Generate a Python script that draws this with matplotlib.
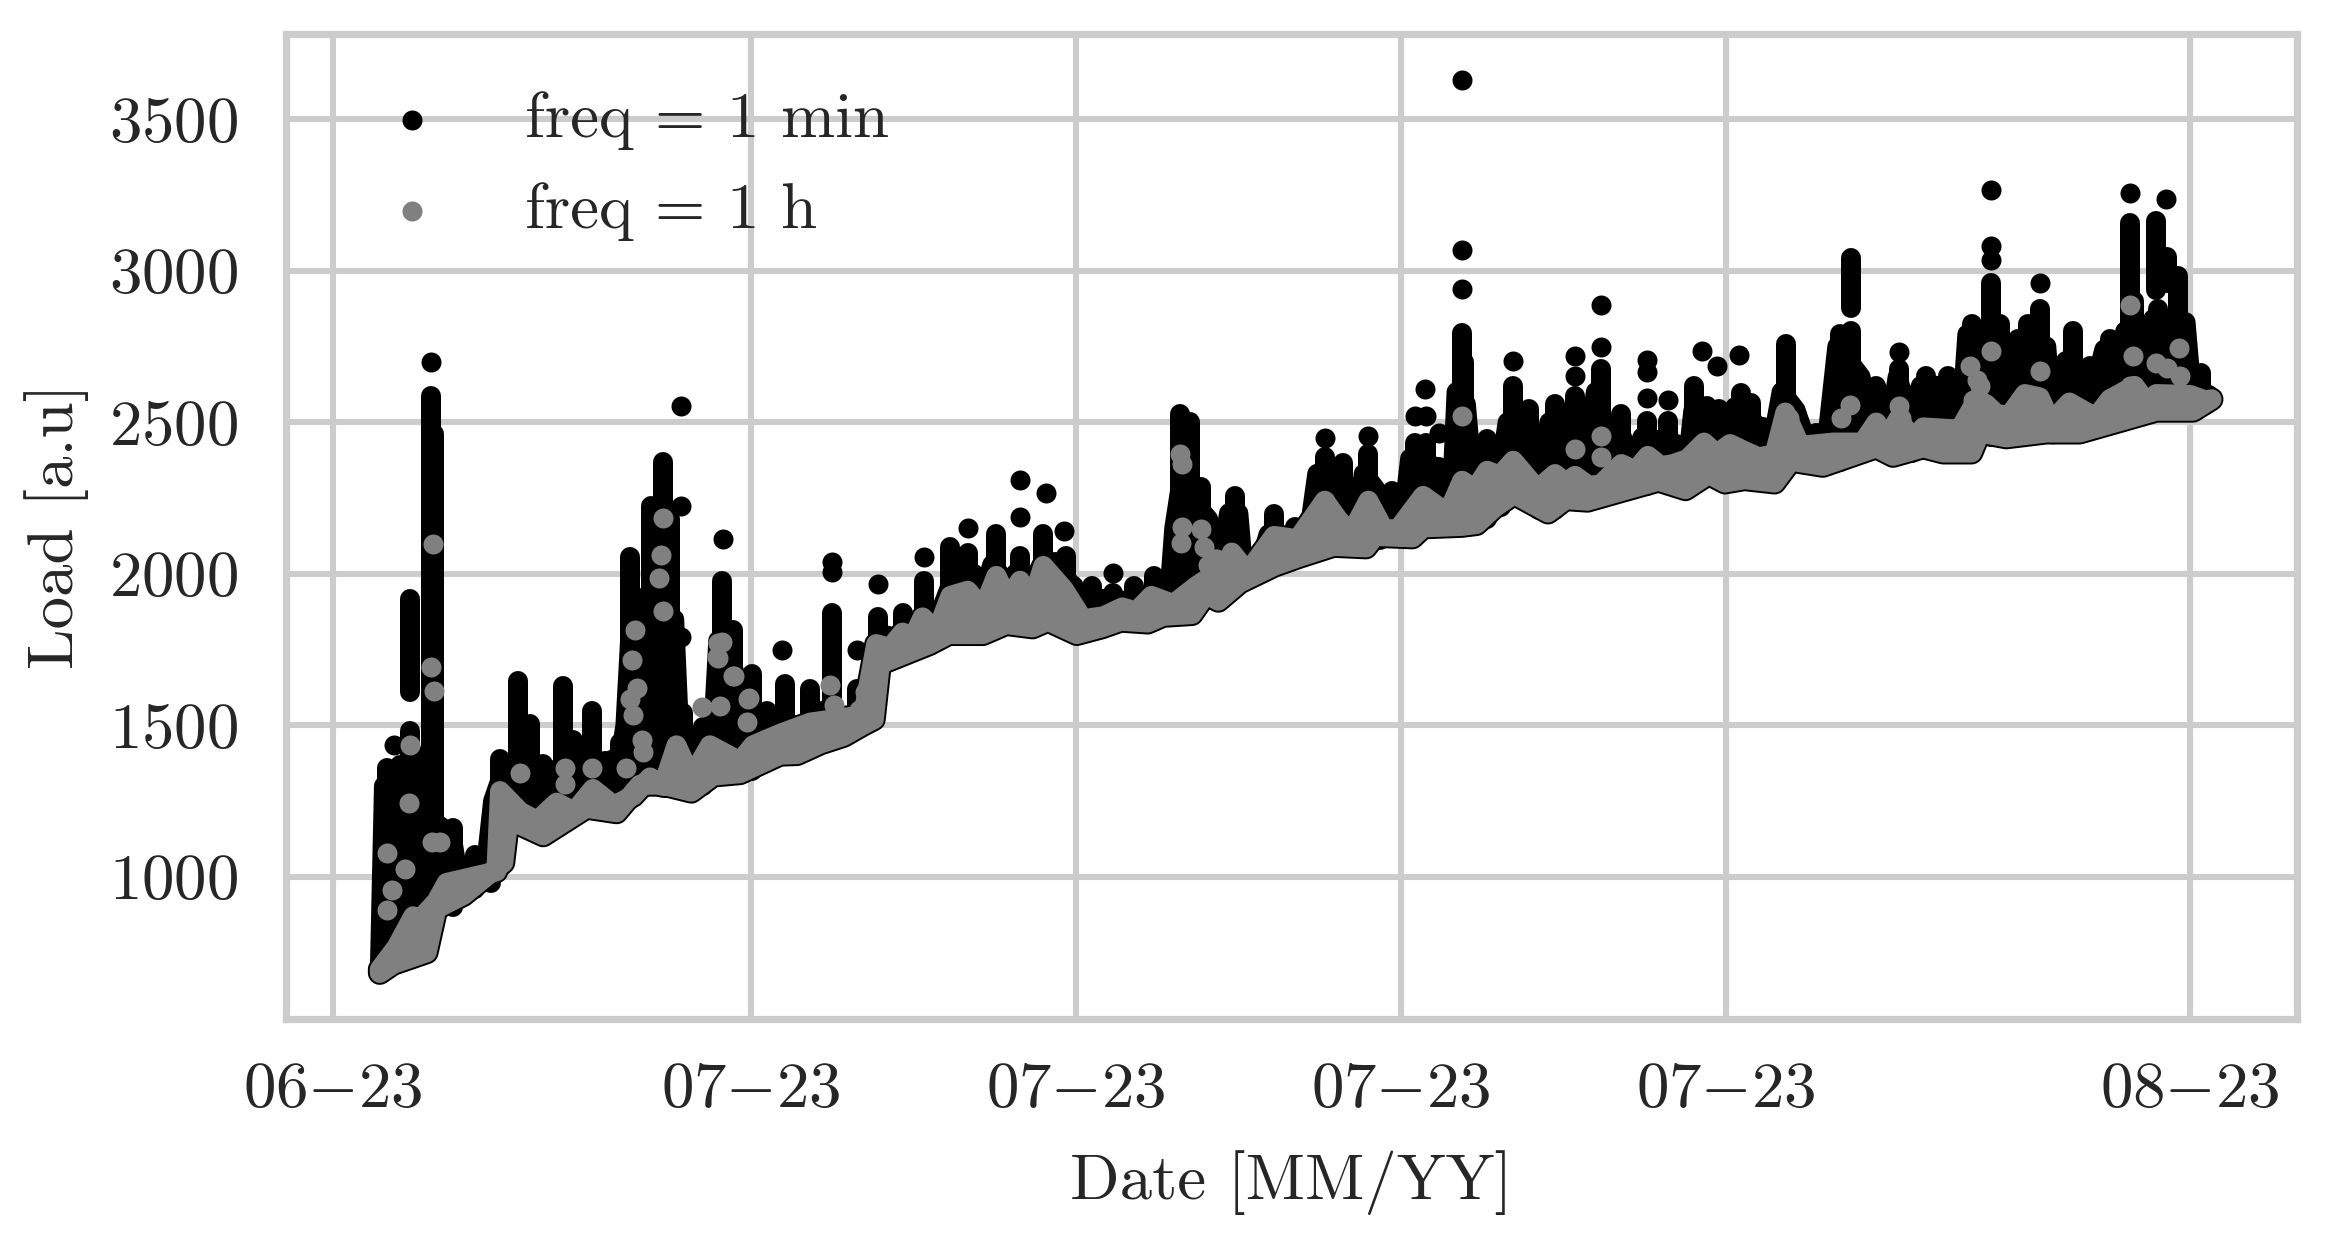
#plot.py
#Load against date, one minute and one hour sampling

from datetime import datetime

import numpy as np
import matplotlib
matplotlib.use("Agg")
import matplotlib.pyplot as plt
import matplotlib.dates as mdates

# all day positions are days after 22 June 2023
START = mdates.date2num(datetime(2023, 6, 22))
tick_dates = [datetime(2023, 6, 22), datetime(2023, 7, 1), datetime(2023, 7, 8),
              datetime(2023, 7, 15), datetime(2023, 7, 22), datetime(2023, 8, 1)]
load_ticks = [1000, 1500, 2000, 2500, 3000, 3500]

# black columns of one minute readings: day, top, bottom
col_day = [1.16, 1.45, 1.67, 1.67, 1.95, 2.12, 2.17, 2.59, 3.06, 3.4, 3.6, 3.99, 4.24, 4.53, 4.96,
           5.18, 5.57, 5.85, 6.18, 6.4, 6.6, 6.86, 7.11, 7.25, 7.55, 7.97, 8.37, 8.62, 9.02, 9.35,
           9.73, 10.0, 10.28, 10.5, 10.75, 11.0, 11.28, 11.5, 11.74, 12.0, 12.27, 12.5, 12.73, 13.0,
           13.3, 13.67, 14.0, 14.29, 14.55, 14.8, 15.05, 15.3, 15.55, 15.78, 16.0, 16.35, 16.8, 17.26,
           17.69, 18.0, 18.25, 18.45, 18.7, 18.95, 19.42, 19.7, 20.27, 20.72, 21.36, 21.75, 21.98,
           22.3, 22.55, 22.8, 23.3, 23.55, 23.82, 24.05, 24.31, 24.37, 24.6, 24.86, 25.15, 25.42,
           25.75, 25.98, 26.31, 26.75, 27.0, 27.31, 27.75, 28.0, 28.3, 28.76, 29.13, 29.31, 29.6,
           29.86, 30.1, 30.32, 30.55, 30.8, 31.05, 31.3, 31.7, 31.94, 32.45, 32.69, 32.69, 32.85,
           33.24, 33.72, 34.0, 34.32, 34.79, 35.05, 35.29, 35.7, 35.9, 36.29, 36.5, 36.76, 37.1,
           37.33, 37.48, 37.84, 38.27, 38.7, 38.8, 39.26, 39.3, 39.49, 39.74, 40.24]
col_top = [1359, 1370, 1480, 1916, 1400, 2586, 2460, 1162, 1071, 1030, 1389, 1646, 1503, 1374, 1631,
           1450, 1548, 1381, 1442, 2056, 1919, 2222, 2370, 2180, 1540, 1495, 1977, 1813, 1669, 1548,
           1636, 1500, 1619, 1510, 1872, 1530, 1619, 1640, 1856, 1780, 1872, 1820, 1977, 1840,
           2087, 2070, 1950, 2131, 1950, 2059, 1990, 2131, 2040, 2059, 1880, 1960, 1938, 1960,
           1993, 1900, 2527, 2500, 2285, 2125, 2257, 2010, 2197, 2153, 2384, 2367, 2257,
           2395, 2220, 2274, 2433, 2433, 2351, 2280, 2796, 2700, 2300, 2444, 2300, 2620,
           2543, 2367, 2560, 2587, 2380, 2675, 2527, 2400, 2505, 2505, 2400, 2620, 2554,
           2543, 2480, 2598, 2565, 2483, 2480, 2758, 2461, 2466, 2791, 3041, 2802, 2653,
           2620, 2675, 2550, 2653, 2653, 2480, 2824, 2961, 2824, 2774, 2824, 2873, 2560,
           2703, 2802, 2686, 2774, 3159, 2900, 3165, 2873, 3044, 2983, 2664]
col_low = [700, 740, 760, 1610, 800, 800, 850, 900, 960, 980, 1040, 1200, 1180, 1150, 1220,
           1230, 1240, 1230, 1230, 1300, 1310, 1320, 1310, 1320, 1300, 1300, 1340, 1340, 1350, 1380,
           1410, 1410, 1420, 1440, 1450, 1470, 1500, 1520, 1700, 1740, 1770, 1780, 1780, 1790,
           1810, 1820, 1810, 1820, 1830, 1840, 1830, 1840, 1840, 1830, 1810, 1830, 1840, 1850,
           1860, 1870, 1870, 1870, 1900, 1920, 1960, 1990, 2030, 2060, 2090, 2090, 2100,
           2090, 2110, 2120, 2120, 2150, 2160, 2160, 2160, 2160, 2170, 2180, 2220, 2260,
           2230, 2210, 2210, 2240, 2240, 2250, 2270, 2280, 2290, 2300, 2280, 2300, 2320,
           2310, 2310, 2310, 2310, 2310, 2320, 2370, 2370, 2360, 2370, 2876, 2400, 2400,
           2410, 2400, 2400, 2410, 2400, 2420, 2400, 2450, 2450, 2460, 2460, 2470, 2470,
           2470, 2470, 2480, 2490, 2510, 2520, 2937, 2540, 2960, 2540, 2550]

# upper edge of the packed black mass between the columns
body_day = [1.1, 2.55, 2.7, 3.0, 3.3, 3.45, 3.7, 4.6, 5.2, 5.8, 6.2, 6.3, 6.4, 6.9, 7.35, 7.45, 7.7, 8.0, 8.2,
            8.3, 8.6, 8.85, 9.1, 9.4, 9.6, 10.0, 10.4, 10.6, 10.9, 11.4, 11.65, 11.8, 12.1, 12.4, 12.6, 12.9,
            13.15, 13.3, 13.8, 14.05, 14.2, 14.55, 14.7, 15.1, 15.3, 15.55, 15.95, 16.05, 16.4, 17.0, 17.5,
            18.0, 18.12, 18.3, 18.45, 18.85, 19.1, 19.3, 19.5, 19.6, 20.0, 20.15, 20.5, 21.0, 21.2, 21.8,
            22.1, 22.2, 22.45, 22.6, 23.05, 23.2, 23.8, 24.1, 24.2, 24.4, 24.55, 24.8, 25.1, 25.3, 25.8,
            26.0, 26.2, 26.5, 26.65, 27.0, 27.2, 27.5, 27.7, 28.0, 28.2, 28.9, 29.15, 29.3, 29.7, 30.0,
            30.2, 30.6, 31.0, 31.2, 31.5, 31.7, 32.2, 32.4, 32.9, 33.1, 33.3, 33.55, 33.7, 33.95, 34.2,
            34.9, 35.05, 35.2, 36.0, 36.15, 36.9, 37.05, 37.2, 38.0, 38.15, 38.5, 38.6, 39.1, 39.2, 39.9,
            40.05, 40.4]
body_top = [1300, 1140, 1000, 1040, 1040, 1250, 1360, 1340, 1380, 1370, 1400, 1500, 1780, 1850, 1850, 1500,
            1430, 1440, 1500, 1780, 1700, 1550, 1500, 1460, 1500, 1490, 1490, 1550, 1500, 1560, 1640, 1800,
            1790, 1830, 1840, 1830, 1900, 1960, 2000, 1950, 2030, 1960, 2000, 1980, 2040, 2010, 1960, 1880,
            1920, 1910, 1920, 1900, 2150, 2330, 2250, 2180, 2000, 2200, 2200, 2020, 2050, 2130, 2120, 2110,
            2330, 2300, 2160, 2330, 2280, 2180, 2180, 2380, 2350, 2250, 2600, 2560, 2300, 2390, 2290, 2500,
            2480, 2270, 2500, 2360, 2500, 2380, 2600, 2320, 2480, 2340, 2450, 2430, 2330, 2540, 2500, 2430,
            2550, 2500, 2430, 2600, 2540, 2450, 2470, 2750, 2650, 2510, 2600, 2500, 2650, 2500, 2620,
            2620, 2450, 2790, 2620, 2740, 2750, 2460, 2680, 2650, 2740, 2680, 2800, 2800, 2840, 2830,
            2560, 2590]

# one minute readings standing clear of the columns
min_day = [2.12, 7.5, 7.5, 7.5, 8.4, 9.68, 10.75, 10.75, 11.28, 11.74, 12.73, 13.67, 14.8, 14.8, 15.36,
           15.74, 16.79, 1.32, 21.36, 22.3, 23.3, 23.52, 23.55, 23.82, 24.31, 24.31, 24.31, 25.42,
           26.75, 26.75, 27.31, 27.31, 28.3, 28.3, 28.3, 28.76, 29.48, 29.8, 30.28, 33.72, 35.7, 35.7,
           35.7, 36.76, 38.7, 39.47]
min_load = [2700, 2555, 2222, 1790, 2115, 1749, 2040, 2005, 1749, 1966, 2057, 2150, 2310, 2187, 2268,
            2140, 2004, 1434, 2447, 2455, 2522, 2609, 2519, 2464, 3628, 3067, 2940, 2703,
            2717, 2651, 2887, 2747, 2706, 2667, 2579, 2574, 2736, 2684, 2722, 2733, 3265, 3083,
            3036, 2959, 3256, 3237]

# lower and upper edge of the solid run of hourly readings
low_day = [1.01, 1.3, 2.02, 2.23, 2.81, 3.67, 3.78, 4.53, 5.46, 6.11, 6.61, 7.11, 7.72, 8.19, 8.77,
           9.63, 10.0, 10.5, 11.0, 11.4, 11.65, 11.78, 12.85, 13.26, 14.0, 14.5, 15.07, 15.4, 16.02,
           16.56, 16.97, 17.55, 17.88, 18.5, 18.8, 19.07, 19.53, 20.27, 20.78, 21.55, 22.25, 22.44,
           23.25, 23.48, 24.32, 24.63, 25.02, 25.44, 26.17, 26.55, 27.02, 27.78, 28.55, 29.13, 29.63,
           29.98, 30.4, 31.05, 31.4, 32.09, 33.24, 33.6, 34.25, 34.68, 35.29, 35.47, 36.04, 36.9,
           37.62, 38.63, 39.27, 40.06, 40.46]
low_load = [683, 713, 751, 895, 940, 1047, 1190, 1137, 1228, 1213, 1304, 1304, 1281, 1334, 1342,
            1403, 1405, 1440, 1465, 1500, 1520, 1702, 1768, 1801, 1801, 1834, 1823, 1845, 1801,
            1823, 1845, 1839, 1861, 1867, 1933, 1911, 1971, 2026, 2054, 2092, 2087, 2125,
            2120, 2153, 2158, 2164, 2219, 2263, 2202, 2246, 2241, 2274, 2307, 2279, 2329,
            2301, 2312, 2301, 2373, 2356, 2417, 2389, 2417, 2400, 2400, 2466, 2450, 2466,
            2466, 2510, 2538, 2538, 2576]
high_day = [1.01, 1.37, 1.73, 1.87, 2.23, 2.45, 3.52, 3.6, 4.03, 4.4, 4.82, 5.2, 5.6, 6.05, 6.47, 6.83, 7.11,
            7.4, 7.72, 8.12, 8.77, 9.05, 9.63, 10.28, 11.3, 11.45, 11.7, 12.0, 12.27, 12.5, 12.7, 13.0,
            13.3, 13.67, 14.0, 14.29, 14.54, 14.8, 15.05, 15.3, 15.74, 16.15, 16.6, 17.0, 17.3, 17.63,
            18.1, 18.6, 18.9, 19.03, 19.2, 19.36, 19.7, 20.27, 20.78, 21.36, 21.67, 21.94, 22.3, 22.63,
            22.94, 23.48, 23.78, 24.02, 24.32, 24.6, 24.86, 25.13, 25.42, 25.94, 26.32, 26.55, 26.75,
            27.05, 27.31, 27.75, 28.05, 28.32, 28.6, 28.86, 29.17, 29.53, 29.8, 30.09, 30.4, 30.71,
            31.05, 31.28, 31.6, 32.31, 32.95, 33.24, 33.46, 33.72, 34.03, 34.25, 34.89, 34.96, 35.4,
            35.6, 35.83, 36.1, 36.44, 36.76, 37.0, 37.4, 37.9, 38.05, 38.27, 38.8, 39.06, 39.27,
            40.0, 40.35]
high_load = [695, 768, 870, 859, 919, 980, 1018, 1283, 1215, 1185, 1245, 1215, 1290, 1235, 1268, 1328, 1300,
             1434, 1328, 1434, 1381, 1434, 1472, 1509, 1531, 1560, 1768, 1755, 1806, 1790, 1856, 1806,
             1927, 1944, 1883, 1993, 1916, 1977, 1905, 2026, 1949, 1850, 1860, 1889, 1875, 1927,
             1900, 1960, 1990, 2048, 1985, 2070, 2004, 2125, 2114, 2241, 2175, 2136, 2241, 2147,
             2147, 2257, 2224, 2202, 2307, 2279, 2340, 2323, 2373, 2279, 2329, 2300, 2323,
             2290, 2295, 2362, 2340, 2389, 2355, 2362, 2378, 2433, 2395, 2428, 2405, 2384,
             2395, 2532, 2422, 2433, 2433, 2499, 2444, 2513, 2439, 2483, 2477, 2455, 2574,
             2560, 2527, 2521, 2593, 2582, 2499, 2565, 2521, 2532, 2576, 2620, 2565, 2593,
             2590, 2571]

# hourly readings standing clear of the solid run
hour_day = [2.16, 2.12, 2.17, 1.67, 1.64, 2.14, 2.3, 1.17, 1.55, 1.27, 1.17, 4.03, 5.0, 5.0, 5.57, 6.32,
            6.5, 6.45, 6.54, 6.4, 6.47, 6.65, 6.68, 7.11, 7.06, 7.03, 7.11, 8.37, 8.3, 8.62, 8.34,
            8.95, 8.91, 8.3, 8.27, 8.63, 7.95, 8.96, 10.7, 10.8, 11.45, 11.33, 18.25, 18.28, 18.29, 18.27,
            18.7, 18.75, 18.85, 18.95, 21.36, 24.31, 26.75, 27.31, 27.31, 31.36, 32.67, 32.47, 33.72,
            33.78, 35.25, 35.4, 35.47, 35.33, 35.7, 36.76, 38.7, 38.76, 38.7, 39.27, 39.49, 39.76, 39.78]
hour_load = [2098, 1692, 1613, 1434, 1245, 1116, 1116, 1078, 1025, 957, 889, 1344, 1359, 1306, 1359, 1359,
             1816, 1715, 1624, 1586, 1533, 1450, 1412, 2184, 2063, 1987, 1877, 1775, 1722, 1662, 1563,
             1586, 1510, 1771, 1727, 1663, 1562, 1590, 1634, 1567, 1611, 1551, 2395, 2363, 2153, 2100,
             2147, 2090, 2030, 1980, 2241, 2519, 2412, 2455, 2385, 2513, 2557, 2513, 2552,
             2513, 2684, 2640, 2618, 2574, 2736, 2668, 2887, 2719, 2620, 2695, 2678, 2744, 2651]

plt.rcParams['font.family'] = 'serif'
plt.rcParams['font.serif'] = ['cmr10']
plt.rcParams['mathtext.fontset'] = 'cm'
plt.rcParams['axes.formatter.use_mathtext'] = True
plt.rcParams['text.color'] = '#262626'
plt.rcParams['xtick.labelcolor'] = '#262626'
plt.rcParams['ytick.labelcolor'] = '#262626'
plt.rcParams['axes.labelcolor'] = '#262626'


def days(values):
    return START + np.array(values)


def main():
    fig, ax = plt.subplots(figsize=(11.64, 6.2), dpi=200)
    fig.subplots_adjust(left=286 / 2328, right=2297 / 2328, top=1 - 34 / 1240, bottom=1 - 1019 / 1240)

    dot = 7.2  # marker diameter in points
    outline_x = np.concatenate([days(low_day), days(high_day)[::-1]])
    outline_y = np.concatenate([low_load, high_load[::-1]])
    body_x = np.concatenate([days(low_day), days(body_day)[::-1]])
    body_y = np.concatenate([low_load, body_top[::-1]])

    ax.vlines(days(col_day), col_low, col_top, color='black', linewidth=dot, capstyle='round', zorder=3)
    ax.fill(body_x, body_y, facecolor='black', edgecolor='black', linewidth=dot,
            joinstyle='round', zorder=3)
    ax.fill(outline_x, outline_y, facecolor='black', edgecolor='black', linewidth=dot + 1.4,
            joinstyle='round', zorder=3)
    ax.scatter(days(min_day), min_load, s=dot ** 2, color='black', linewidths=0, zorder=3, label='freq = 1 min')
    ax.fill(outline_x, outline_y, facecolor='gray', edgecolor='gray', linewidth=dot,
            joinstyle='round', zorder=4)
    ax.scatter(days(hour_day), hour_load, s=dot ** 2, color='gray', linewidths=0, zorder=4, label='freq = 1 h')

    ax.set_xlim(START - 1.01, START + 42.3)
    ax.set_ylim(531, 3781)
    ax.set_xticks([mdates.date2num(d) for d in tick_dates])
    ax.set_yticks(load_ticks)
    ax.xaxis.set_major_formatter(mdates.DateFormatter('$%m{-}%y$'))
    ax.tick_params(axis='both', length=0, labelsize=23.4)
    ax.tick_params(axis='x', pad=15.5)
    ax.tick_params(axis='y', pad=17)
    ax.grid(True, color='#cccccc', linewidth=2.2, zorder=1)
    ax.set_axisbelow(True)
    for spine in ax.spines.values():
        spine.set_color('#cccccc')
        spine.set_linewidth(2.6)

    ax.set_xlabel('Date [MM/YY]', fontsize=23.4, labelpad=11)
    ax.set_ylabel('Load [a.u]', fontsize=23.4, labelpad=7.3)
    ax.legend(loc='upper left', frameon=False, fontsize=23.4, handletextpad=0.75, labelspacing=0.5,
              borderaxespad=0.55, bbox_to_anchor=(-0.0005, 1.0045))

    fig.savefig('out.png', dpi=200)


if __name__ == "__main__":
    main()
